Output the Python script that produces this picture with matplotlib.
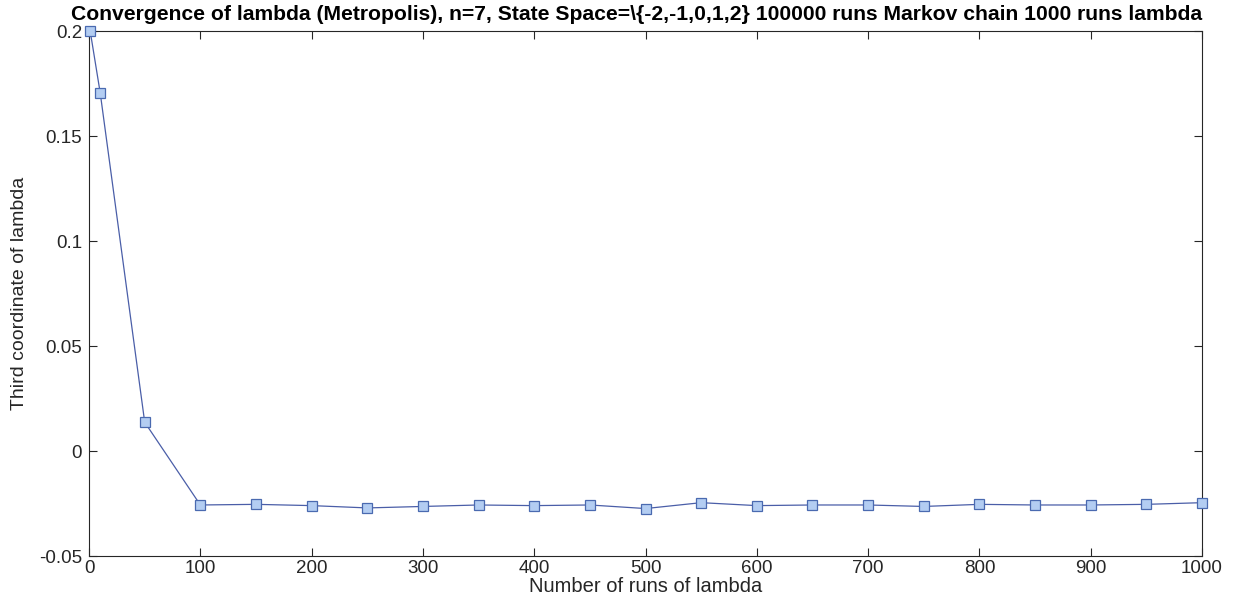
import matplotlib
matplotlib.use("Agg")
import matplotlib.pyplot as plt

runs = [1, 10, 50, 100, 150, 200, 250, 300, 350, 400, 450, 500,
        550, 600, 650, 700, 750, 800, 850, 900, 950, 1000]
third_coord = [0.2, 0.1706, 0.0137, -0.0257, -0.0254, -0.0260, -0.0271,
               -0.0264, -0.0257, -0.0260, -0.0257, -0.0274, -0.0246,
               -0.0260, -0.0257, -0.0257, -0.0264, -0.0254, -0.0257,
               -0.0257, -0.0254, -0.0246]
xticks = list(range(0, 1001, 100))
yticks = [-0.05, 0, 0.05, 0.1, 0.15, 0.2]
ytick_labels = ["-0.05", "0", "0.05", "0.1", "0.15", "0.2"]

plt.rcParams['font.family'] = ['Liberation Sans', 'DejaVu Sans']

fig = plt.figure(figsize=(12.37, 6.07), dpi=100)
ax = fig.add_axes([0.0720, 0.0840, 0.8997, 0.8649])

ax.plot(runs, third_coord, color='#4a5ea8', linewidth=0.9,
        marker='s', markersize=6.5, markerfacecolor='#b3cdf2',
        markeredgecolor='#4a6ab0', markeredgewidth=0.9, clip_on=False, zorder=3)

ax.set_xlim(0, 1000)
ax.set_ylim(-0.05, 0.2)
ax.set_xticks(xticks)
ax.set_yticks(yticks)
ax.set_yticklabels(ytick_labels)

for s in ax.spines.values():
    s.set_color('#262626')
    s.set_linewidth(0.8)
ax.tick_params(direction='in', top=True, right=True, length=6, width=0.8,
               colors='#262626', labelsize=13.5)
ax.tick_params(axis='x', pad=3)
ax.tick_params(axis='y', pad=5)

ax.set_title(r"Convergence of lambda (Metropolis), n=7, State Space=\{-2,-1,0,1,2} 100000 runs Markov chain 1000 runs lambda",
             fontsize=15.2, fontweight='bold', pad=8, x=0.492)
ax.set_xlabel("Number of runs of lambda", fontsize=14.5, color='#262626', labelpad=0)
ax.set_ylabel("Third coordinate of lambda", fontsize=14, color='#262626', labelpad=8)

fig.savefig("out.png", dpi=100, facecolor='white')
